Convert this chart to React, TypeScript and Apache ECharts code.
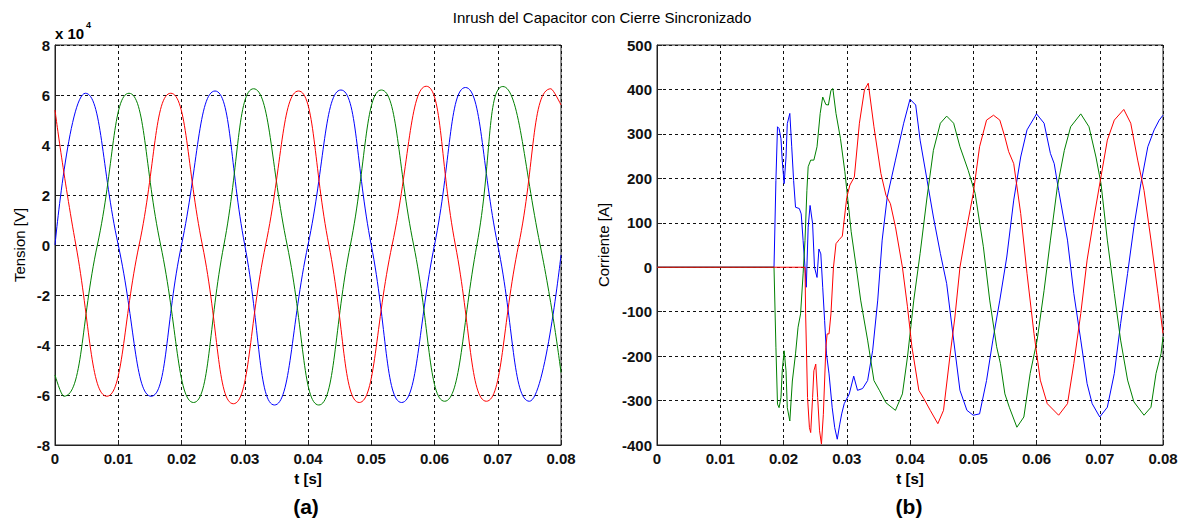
import React, { useEffect, useRef } from "react";
import * as echarts from "echarts";

// ---------- data ----------
const chartTitle = "Inrush del Capacitor con Cierre Sincronizado";
const timeTicks = [0, 0.01, 0.02, 0.03, 0.04, 0.05, 0.06, 0.07, 0.08];
const voltTicks = [-80000, -60000, -40000, -20000, 0, 20000, 40000, 60000, 80000];
const currTicks = [-400, -300, -200, -100, 0, 100, 200, 300, 400, 500];

// Panel (a): voltage [V], points at peaks, troughs and zero crossings
const voltBlue: [number, number][] = [
  [0, 0], [0.0048, 60700], [0.01, 0], [0.0152, -60500], [0.02, 0], [0.0253, 61600],
  [0.03, 0], [0.0347, -64000], [0.04, 0], [0.0452, 62000], [0.05, 0], [0.0548, -63000],
  [0.06, 0], [0.0649, 63000], [0.07, 0], [0.075, -62500], [0.08, -4000],
];
const voltGreen: [number, number][] = [
  [0, -52000], [0.0014, -60500], [0.0067, 0], [0.0117, 60700], [0.0167, 0], [0.0219, -63000],
  [0.0267, 0], [0.0314, 62500], [0.0367, 0], [0.0417, -64000], [0.0467, 0], [0.0516, 62000],
  [0.0567, 0], [0.0616, -62500], [0.0667, 0], [0.0708, 63400], [0.0767, 0], [0.08, -51000],
];
const voltRed: [number, number][] = [
  [0, 54000], [0.0033, 0], [0.0082, -60500], [0.0133, 0], [0.0183, 60700], [0.0233, 0],
  [0.0282, -63500], [0.0333, 0], [0.0385, 61600], [0.0433, 0], [0.0481, -63000], [0.0533, 0],
  [0.0587, 63500], [0.0633, 0], [0.0682, -62500], [0.0733, 0], [0.0784, 62500], [0.08, 56000],
];

// Panel (b): current [A]
const currBlue: [number, number][] = [
  [0, 0], [0.0185, 0], [0.0188, 195], [0.01905, 316], [0.0193, 312], [0.0196, 289], [0.0198, 240],
  [0.0201, 188], [0.0204, 248], [0.0206, 323], [0.021, 346], [0.0213, 271], [0.0216, 195],
  [0.0219, 135], [0.0225, 132], [0.0228, 120], [0.0231, 60], [0.0234, 0], [0.0236, -45],
  [0.0239, 90], [0.0242, 139], [0.0246, 98], [0.0249, 0], [0.0253, -23], [0.0256, 41],
  [0.0259, 30], [0.0262, -45], [0.0265, -120], [0.0268, -195], [0.0272, -240], [0.0277, -316],
  [0.0281, -361], [0.0285, -387], [0.0289, -353], [0.0292, -330], [0.0296, -307], [0.0304, -285],
  [0.0311, -245], [0.0317, -277], [0.0325, -273], [0.0333, -255], [0.0341, -187], [0.0349, -74],
  [0.0356, 61], [0.0364, 158], [0.0377, 241], [0.039, 324], [0.04, 378], [0.0409, 365],
  [0.0416, 286], [0.0427, 196], [0.0437, 113], [0.0448, 31], [0.0458, -37], [0.0469, -164],
  [0.0479, -277], [0.049, -322], [0.05, -333], [0.051, -330], [0.0521, -255], [0.0531, -164],
  [0.0542, -74], [0.0553, 23], [0.0564, 151], [0.0575, 248], [0.0585, 309], [0.06, 345],
  [0.0612, 324], [0.0622, 256], [0.0628, 233], [0.0635, 173], [0.0649, 61], [0.0659, -59],
  [0.067, -164], [0.068, -262], [0.0688, -307], [0.07, -337], [0.0712, -315], [0.0723, -239],
  [0.0733, -127], [0.0744, -14], [0.0754, 91], [0.0765, 188], [0.0776, 271], [0.0786, 309],
  [0.0794, 331], [0.08, 342],
];
const currGreen: [number, number][] = [
  [0, 0], [0.0185, 0], [0.0188, -180], [0.01905, -308], [0.0193, -316], [0.0196, -293],
  [0.0198, -233], [0.0201, -188], [0.0204, -233], [0.0206, -316], [0.021, -346], [0.0214, -256],
  [0.0219, -195], [0.0223, -135], [0.0227, -105], [0.0231, -15], [0.0234, 60], [0.0237, 173],
  [0.0239, 226], [0.0243, 241], [0.0248, 241], [0.0253, 271], [0.0258, 346], [0.0262, 383],
  [0.0267, 366], [0.0271, 365], [0.0275, 398], [0.0278, 402], [0.0283, 346], [0.029, 290],
  [0.0297, 215], [0.03, 175], [0.0307, 80], [0.0315, 0], [0.0322, -74], [0.0333, -164],
  [0.0343, -255], [0.0352, -278], [0.0362, -305], [0.0377, -322], [0.0388, -285], [0.0396, -202],
  [0.0406, -74], [0.0416, 31], [0.0427, 158], [0.0437, 263], [0.0448, 324], [0.0458, 340],
  [0.0469, 324], [0.0479, 271], [0.0492, 218], [0.0503, 166], [0.0516, 46], [0.0526, -74],
  [0.0537, -179], [0.0543, -217], [0.055, -285], [0.0557, -315], [0.0569, -360], [0.058, -337],
  [0.059, -239], [0.0601, -164], [0.0612, -52], [0.0622, 61], [0.0633, 181], [0.0644, 263],
  [0.0654, 316], [0.067, 345], [0.0683, 316], [0.0694, 248], [0.0702, 188], [0.0712, 61],
  [0.0723, -59], [0.0733, -164], [0.0744, -254], [0.0754, -303], [0.077, -333], [0.0781, -315],
  [0.0789, -239], [0.0797, -194], [0.08, -157],
];
const currRed: [number, number][] = [
  [0, 0], [0.0234, 0], [0.0235, -105], [0.0238, -293], [0.0241, -361], [0.0243, -372],
  [0.0246, -293], [0.0248, -233], [0.0251, -218], [0.0254, -293], [0.0257, -368], [0.026, -398],
  [0.0263, -331], [0.0267, -180], [0.0269, -150], [0.0272, -150], [0.0275, -105], [0.0279, 0],
  [0.0283, 53], [0.0288, 62], [0.0293, 70], [0.03, 157], [0.0305, 185], [0.0312, 203],
  [0.032, 324], [0.0328, 399], [0.0334, 414], [0.0343, 316], [0.0354, 211], [0.0362, 162],
  [0.0369, 143], [0.0377, 91], [0.0388, 0], [0.0396, -89], [0.0403, -179], [0.0414, -277],
  [0.0422, -296], [0.0432, -322], [0.0444, -352], [0.0453, -322], [0.0463, -202], [0.0471, -112],
  [0.0479, 0], [0.049, 91], [0.05, 166], [0.051, 271], [0.0521, 331], [0.0532, 342],
  [0.0542, 331], [0.055, 293], [0.0556, 260], [0.0564, 233], [0.0575, 121], [0.0585, -14],
  [0.0596, -149], [0.0606, -254], [0.0617, -307], [0.0635, -333], [0.0649, -307], [0.0659, -217],
  [0.067, -104], [0.068, 16], [0.0691, 113], [0.0701, 196], [0.0712, 286], [0.0723, 331],
  [0.0738, 355], [0.0749, 324], [0.076, 241], [0.077, 173], [0.0781, 61], [0.0792, -59],
  [0.08, -149],
];

const BLUE = "#0000ff";
const GREEN = "#008000";
const RED = "#ff0000";
const FONT = "'Liberation Sans', Arial, Helvetica, sans-serif";
const AXIS_COLOR = "#222";

function xAxisFor(gridIndex: number) {
  return {
    type: "value" as const,
    gridIndex,
    min: timeTicks[0],
    max: timeTicks[timeTicks.length - 1],
    interval: timeTicks[1] - timeTicks[0],
    name: "t [s]",
    nameLocation: "middle" as const,
    nameGap: 26,
    nameTextStyle: { color: "#000", fontSize: 15, fontWeight: "bold", fontFamily: FONT },
    axisLine: { show: true, onZero: false, lineStyle: { color: AXIS_COLOR, width: 1 } },
    axisTick: { show: true, inside: true, length: 5, lineStyle: { color: AXIS_COLOR } },
    axisLabel: {
      color: "#111",
      fontSize: 15,
      fontWeight: "bold",
      fontFamily: FONT,
      margin: 6,
      formatter: (v: number) => (Math.abs(v) < 1e-9 ? "0" : v.toFixed(2)),
    },
    splitLine: { show: true, lineStyle: { color: "#111", width: 1, type: [3, 3] } },
  };
}

function yAxisFor(gridIndex: number, ticks: number[], name: string, gap: number, fmt: (v: number) => string) {
  return {
    type: "value" as const,
    gridIndex,
    min: ticks[0],
    max: ticks[ticks.length - 1],
    interval: ticks[1] - ticks[0],
    name,
    nameLocation: "middle" as const,
    nameRotate: 90,
    nameGap: gap,
    nameTextStyle: { color: "#000", fontSize: 15, fontFamily: FONT },
    axisLine: { show: true, onZero: false, lineStyle: { color: AXIS_COLOR, width: 1 } },
    axisTick: { show: true, inside: true, length: 5, lineStyle: { color: AXIS_COLOR } },
    axisLabel: { color: "#111", fontSize: 15, fontWeight: "bold", fontFamily: FONT, margin: 5, formatter: fmt },
    splitLine: { show: true, lineStyle: { color: "#111", width: 1, type: [3, 3] } },
  };
}

function lineSeries(data: [number, number][], color: string, axis: number, smooth: number | boolean) {
  return {
    type: "line" as const,
    xAxisIndex: axis,
    yAxisIndex: axis,
    data,
    smooth,
    showSymbol: false,
    symbol: "none",
    lineStyle: { color, width: 1 },
    itemStyle: { color },
    emphasis: { disabled: true },
  };
}

export default function App() {
  const ref = useRef<HTMLDivElement>(null);

  useEffect(() => {
    if (!ref.current) return;
    const chart = echarts.init(ref.current, null, { renderer: "svg" });
    chart.setOption({
      animation: false,
      backgroundColor: "#ffffff",
      textStyle: { fontFamily: FONT },
      grid: [
        { left: 55, top: 45, width: 506, height: 400, show: true, borderColor: AXIS_COLOR, borderWidth: 1, backgroundColor: "transparent" },
        { left: 657, top: 45, width: 506, height: 400, show: true, borderColor: AXIS_COLOR, borderWidth: 1, backgroundColor: "transparent" },
      ],
      xAxis: [xAxisFor(0), xAxisFor(1)],
      yAxis: [
        yAxisFor(0, voltTicks, "Tension [V]", 28, (v: number) => String(Math.round(v / 1e4))),
        yAxisFor(1, currTicks, "Corriente [A]", 46, (v: number) => String(v)),
      ],
      series: [
        lineSeries(voltBlue, BLUE, 0, 0.5),
        lineSeries(voltGreen, GREEN, 0, 0.5),
        lineSeries(voltRed, RED, 0, 0.5),
        lineSeries(currBlue, BLUE, 1, false),
        lineSeries(currGreen, GREEN, 1, false),
        lineSeries(currRed, RED, 1, false),
      ],
      graphic: [
        {
          type: "text",
          x: 602,
          y: 17,
          style: { text: chartTitle, fill: "#000", fontSize: 15, fontFamily: FONT, align: "center", verticalAlign: "middle" },
        },
        {
          type: "text",
          x: 55,
          y: 26,
          style: { text: "x 10", fill: "#000", fontSize: 15, fontWeight: "bold", fontFamily: FONT },
        },
        {
          type: "text",
          x: 86,
          y: 20,
          style: { text: "4", fill: "#000", fontSize: 9, fontWeight: "bold", fontFamily: FONT },
        },
        {
          type: "text",
          x: 306,
          y: 506,
          style: { text: "(a)", fill: "#000", fontSize: 21, fontWeight: "bold", fontFamily: FONT, align: "center", verticalAlign: "middle" },
        },
        {
          type: "text",
          x: 909,
          y: 506,
          style: { text: "(b)", fill: "#000", fontSize: 21, fontWeight: "bold", fontFamily: FONT, align: "center", verticalAlign: "middle" },
        },
      ],
    });
    return () => chart.dispose();
  }, []);

  return (
    <div
      ref={ref}
      style={{ position: "fixed", left: 0, top: 0, width: 1184, height: 518, background: "#fff" }}
    />
  );
}
